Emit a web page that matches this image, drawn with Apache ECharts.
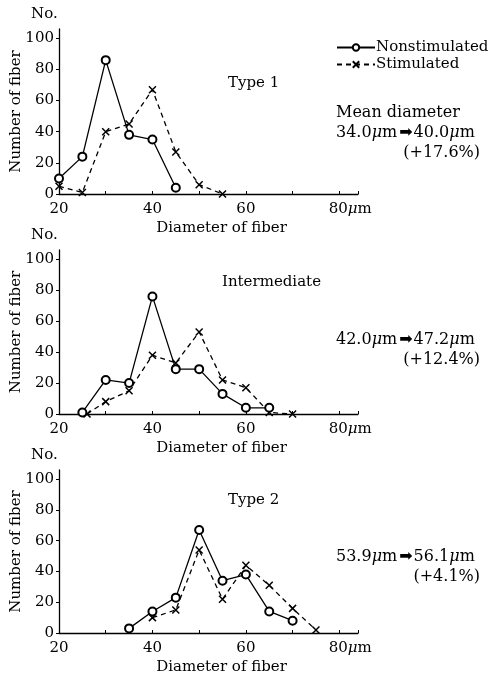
<!DOCTYPE html>
<html>
<head>
<meta charset="utf-8">
<script src="https://cdn.jsdelivr.net/npm/echarts@6/dist/echarts.min.js"></script>
<style>
html, body { margin: 0; background: #fff; }
#main { width: 496px; height: 677px; }
</style>
</head>
<body>
<div id="main"></div>
<script>
// fiber diameter (um) and counts
const type1X = [20, 25, 30, 35, 40, 45]
const type1Non = [10, 24, 86, 38, 35, 4]
const type1StimX = [20, 25, 30, 35, 40, 45, 50, 55]
const type1Stim = [5, 1, 40, 45, 67, 27, 6, 0]

const interX = [25, 30, 35, 40, 45, 50, 55, 60, 65]
const interNon = [1, 22, 20, 76, 29, 29, 13, 4, 4]
const interStimX = [26, 30, 35, 40, 45, 50, 55, 60, 65, 70]
const interStim = [0, 8, 15, 38, 33, 53, 22, 17, 1, 0]

const type2X = [35, 40, 45, 50, 55, 60, 65, 70]
const type2Non = [3, 14, 23, 67, 34, 38, 14, 8]
const type2StimX = [40, 45, 50, 55, 60, 65, 70, 75]
const type2Stim = [10, 15, 54, 22, 44, 31, 16, 2]

const panelNames = ['Type 1', 'Intermediate', 'Type 2']
const meanFrom = ['34.0', '42.0', '53.9']
const meanTo = ['40.0', '47.2', '56.1']
const meanPct = ['(+17.6%)', '(+12.4%)', '(+4.1%)']

const serif = 'DejaVu Serif'
const cross = 'path://M0,0L10,10M10,0L0,10'

const pair = (xs, ys) => xs.map((x, i) => [x, ys[i]])

const panels = [
  { non: pair(type1X, type1Non), stim: pair(type1StimX, type1Stim), top: 29, height: 165 },
  { non: pair(interX, interNon), stim: pair(interStimX, interStim), top: 250, height: 164 },
  { non: pair(type2X, type2Non), stim: pair(type2StimX, type2Stim), top: 470, height: 163 }
]

const grids = []
const xAxes = []
const yAxes = []
const series = []
const graphics = []

panels.forEach((p, i) => {
  grids.push({ left: 59, width: 299, top: p.top, height: p.height, outerBoundsMode: 'none', containLabel: false })
  xAxes.push({
    type: 'value',
    gridIndex: i,
    min: 20,
    max: 84,
    interval: 10,
    splitLine: { show: false },
    axisLine: { lineStyle: { color: '#000', width: 1.3 } },
    axisTick: { inside: true, length: 3, lineStyle: { color: '#000' } },
    axisLabel: {
      color: '#000',
      fontFamily: serif,
      fontSize: 15,
      margin: 8,
      formatter: (v) => {
        if (v === 80) return '{p|}80{u|μ}m'
        return v % 20 === 0 ? String(v) : ''
      },
      rich: {
        p: { width: 22 },
        u: { fontFamily: serif, fontSize: 15, fontStyle: 'italic' }
      }
    },
    name: 'Diameter of fiber',
    nameLocation: 'middle',
    nameGap: 27,
    nameMoveOverlap: false,
    nameTextStyle: { color: '#000', fontFamily: serif, fontSize: 15, padding: [0, 0, 0, 26] }
  })
  yAxes.push({
    type: 'value',
    gridIndex: i,
    min: 0,
    max: 106,
    interval: 20,
    splitLine: { show: false },
    axisLine: { show: true, lineStyle: { color: '#000', width: 1.3 } },
    axisTick: { show: true, length: 3, lineStyle: { color: '#000' } },
    axisLabel: { color: '#000', fontFamily: serif, fontSize: 15, margin: 5 },
    name: 'Number of fiber',
    nameLocation: 'middle',
    nameGap: 35,
    nameMoveOverlap: false,
    nameTextStyle: { color: '#000', fontFamily: serif, fontSize: 15 }
  })
  series.push({
    name: 'Nonstimulated',
    type: 'line',
    xAxisIndex: i,
    yAxisIndex: i,
    data: p.non,
    symbol: 'emptyCircle',
    symbolSize: 8,
    lineStyle: { color: '#000', width: 1.3 },
    itemStyle: { color: '#000', borderWidth: 1.2 },
    z: 3
  })
  series.push({
    name: 'Stimulated',
    type: 'line',
    xAxisIndex: i,
    yAxisIndex: i,
    data: p.stim,
    symbol: cross,
    symbolSize: 7,
    lineStyle: { color: '#000', width: 1.3, type: [5, 4] },
    itemStyle: { color: '#000', borderColor: '#000', borderWidth: 1.5 },
    z: 2
  })

  // "No." above each y axis
  graphics.push({
    type: 'text', x: 31, y: p.top - 22,
    style: { text: 'No.', font: '15px "' + serif + '"', fill: '#000' }
  })
})

// panel captions and mean diameter notes
const capY = [83, 282, 500]
const capX = [228, 222, 228]
const noteY = [133, 340, 557]
panelNames.forEach((t, i) => {
  graphics.push({
    type: 'text', x: capX[i], y: capY[i],
    style: { text: t, font: '15px "' + serif + '"', fill: '#000', verticalAlign: 'middle' }
  })
  graphics.push({
    type: 'text', x: 336, y: noteY[i],
    style: {
      text: meanFrom[i] + '{u|μ}m{a|➡}' + meanTo[i] + '{u|μ}m',
      font: '16px "' + serif + '"',
      fill: '#000',
      verticalAlign: 'middle',
      rich: {
        u: { fontFamily: serif, fontSize: 16, fontStyle: 'italic' },
        a: { fontFamily: 'DejaVu Sans', fontSize: 16, padding: [0, 1, 0, 2] }
      }
    }
  })
  graphics.push({
    type: 'text', x: 480, y: noteY[i] + 20,
    style: { text: meanPct[i], font: '16px "' + serif + '"', fill: '#000', align: 'right', verticalAlign: 'middle' }
  })
})
graphics.push({
  type: 'text', x: 336, y: 113,
  style: { text: 'Mean diameter', font: '16px "' + serif + '"', fill: '#000', verticalAlign: 'middle' }
})

const myChart = echarts.init(document.getElementById('main'))
myChart.setOption({
  animation: false,
  backgroundColor: '#fff',
  legend: {
    data: ['Nonstimulated', 'Stimulated'],
    orient: 'vertical',
    left: 336,
    top: 40,
    padding: 0,
    itemWidth: 38,
    itemHeight: 8,
    itemGap: 2,
    selectedMode: false,
    textStyle: { color: '#000', fontFamily: serif, fontSize: 15, padding: [0, 0, 0, -4] }
  },
  grid: grids,
  xAxis: xAxes,
  yAxis: yAxes,
  series: series,
  graphic: graphics
})
</script>
</body>
</html>
